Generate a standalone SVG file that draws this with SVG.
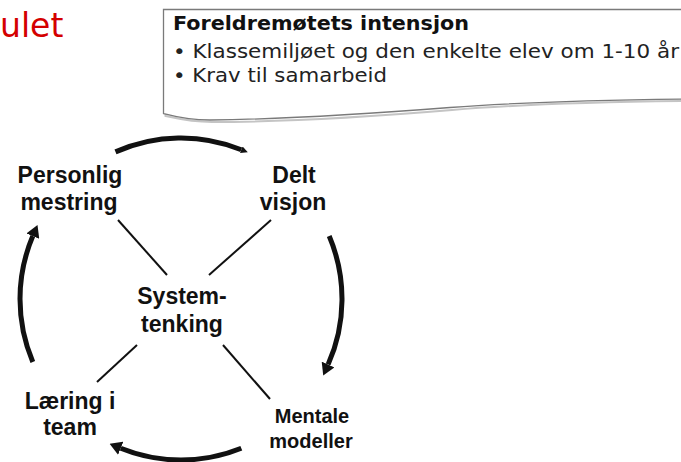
<svg xmlns="http://www.w3.org/2000/svg" width="681" height="462" viewBox="0 0 681 462">
  <style>
    .heading { font-family: "DejaVu Sans", Verdana, sans-serif; font-size: 33px; fill: #d40000; }
    .note-title { font-family: "DejaVu Sans", Verdana, sans-serif; font-size: 19px; font-weight: bold; fill: #111; }
    .note-item { font-family: "DejaVu Sans", Verdana, sans-serif; font-size: 19px; fill: #222; }
    .label { font-family: "Liberation Sans", Arial, sans-serif; font-weight: bold; font-size: 23px; fill: #111; text-anchor: middle; }
    .label-small { font-size: 20px; }
    .spoke { stroke: #111; stroke-width: 2; fill: none; }
    .cycle { stroke: #111; stroke-width: 5; fill: none; }
  </style>
  <defs>
    <marker id="arrow" markerUnits="userSpaceOnUse" viewBox="0 0 12 14" refX="0" refY="7" markerWidth="12" markerHeight="14" orient="auto">
      <path d="M0,0 L12,7 L0,14 z" fill="#111"/>
    </marker>
    <marker id="arrow-small" markerUnits="userSpaceOnUse" viewBox="0 0 7 7" refX="0" refY="3.5" markerWidth="7" markerHeight="7" orient="auto">
      <path d="M0,0 L7,3.5 L0,7 z" fill="#111"/>
    </marker>
  </defs>

  <!-- page heading (partly off the left edge) -->
  <text class="heading" x="0" y="37">ulet</text>

  <!-- callout note -->
  <g id="note">
    <path d="M165.5,12 L690,12 L690,101 C600,102 520,104 452,110 C380,116 300,122 212,122 C190,122 175,118 165.5,116 Z" fill="none" stroke="#c4c4c4" stroke-width="2"/>
    <path d="M163.5,9.5 L690,9.5 L690,99 C600,100 520,102 450,107.5 C380,113 300,119 210,120 C188,120 173,116 163.5,113.5 Z" fill="#fff" stroke="#7a7a7a" stroke-width="1.3"/>
    <text class="note-title" x="173" y="30" textLength="296" lengthAdjust="spacingAndGlyphs">Foreldremøtets intensjon</text>
    <text class="note-item" x="173" y="58" textLength="506" lengthAdjust="spacingAndGlyphs">• Klassemiljøet og den enkelte elev om 1-10 år</text>
    <text class="note-item" x="173" y="82" textLength="214" lengthAdjust="spacingAndGlyphs">• Krav til samarbeid</text>
  </g>

  <!-- connectors: spokes to the centre and the cycle arrows around it -->
  <g id="connectors">
    <line class="spoke" x1="118" y1="220" x2="167" y2="275"/>
    <line class="spoke" x1="271" y1="220" x2="209" y2="275"/>
    <line class="spoke" x1="137" y1="345" x2="97" y2="382"/>
    <line class="spoke" x1="223" y1="345" x2="270" y2="399"/>

    <path class="cycle" d="M115.5,151.9 A161,161 0 0 1 241.3,149.7" marker-end="url(#arrow-small)"/>
    <path class="cycle" d="M329.2,236.1 A161,161 0 0 1 328.1,364.5" marker-end="url(#arrow)"/>
    <path class="cycle" d="M241.3,448.3 A161,161 0 0 1 120.7,448.3" marker-end="url(#arrow)"/>
    <path class="cycle" d="M32.8,361.9 A161,161 0 0 1 32.8,236.1" marker-end="url(#arrow)"/>
  </g>

  <g id="personlig-mestring">
    <text class="label" x="70" y="183">Personlig</text>
    <text class="label" x="69" y="210">mestring</text>
  </g>
  <g id="delt-visjon">
    <text class="label" x="294" y="183">Delt</text>
    <text class="label" x="293" y="210">visjon</text>
  </g>
  <g id="systemtenking">
    <text class="label" x="182" y="304">System-</text>
    <text class="label" x="182" y="332">tenking</text>
  </g>
  <g id="laering-i-team">
    <text class="label" x="70" y="409">Læring i</text>
    <text class="label" x="70" y="435">team</text>
  </g>
  <g id="mentale-modeller">
    <text class="label label-small" x="312" y="423">Mentale</text>
    <text class="label label-small" x="311" y="448">modeller</text>
  </g>
</svg>
